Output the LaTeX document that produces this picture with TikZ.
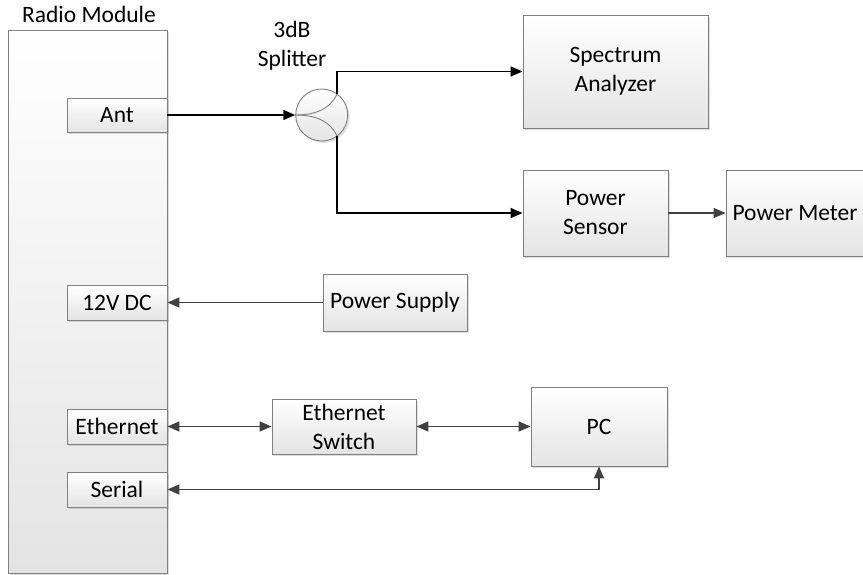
\documentclass[tikz,border=0pt]{standalone}
\usepackage{fontspec}
\setmainfont{Carlito}
\usetikzlibrary{arrows.meta,shadows,calc}
\definecolor{boxborder}{RGB}{128,128,128}
\definecolor{boxbottom}{RGB}{228,228,228}
\definecolor{wire}{RGB}{64,64,64}
\tikzset{
  blockbox/.style={draw=boxborder, line width=0.9pt, rectangle, inner sep=0pt,
    top color=white, bottom color=boxbottom, align=center,
    drop shadow={shadow xshift=2pt, shadow yshift=-2pt, opacity=0.25, fill=gray}},
  wireline/.style={draw=wire, line width=1.5pt},
  blackline/.style={draw=black, line width=1.5pt},
  tip/.style={-{Triangle[length=12pt,width=10pt]}},
  tips/.style={{Triangle[length=12pt,width=10pt]}-{Triangle[length=12pt,width=10pt]}},
  lbl/.style={inner sep=0pt, align=center}
}
\begin{document}
\begin{tikzpicture}[x=1pt,y=-1pt,font=\fontsize{23.5}{29}\selectfont]
\useasboundingbox (0,0) rectangle (863,575);
\begin{scope}
\clip (0,0) rectangle (863,575);
% boxes
\node[blockbox, minimum width=159pt, minimum height=543pt] (radio) at (87.5,301.5) {};
\node[blockbox, minimum width=100pt, minimum height=34pt] (ant) at (117,115) {Ant};
\node[blockbox, minimum width=100pt, minimum height=35pt] (dc) at (117,302.5) {12V DC};
\node[blockbox, minimum width=100pt, minimum height=35pt] (eth) at (117,426.5) {Ethernet};
\node[blockbox, minimum width=100pt, minimum height=35pt] (serial) at (117,489.5) {Serial};
\node[blockbox, minimum width=185pt, minimum height=113pt] (spec) at (615.5,71.5) {Spectrum\\Analyzer};
\node[blockbox, minimum width=145pt, minimum height=86pt] (sensor) at (595.5,213) {Power\\Sensor};
\node[blockbox, minimum width=138pt, minimum height=86pt] (meter) at (795,213) {Power Meter};
\node[blockbox, minimum width=144pt, minimum height=57pt] (psu) at (395,302.5) {Power Supply};
\node[blockbox, minimum width=144pt, minimum height=55pt] (switch) at (344,426.5) {Ethernet\\Switch};
\node[blockbox, minimum width=136pt, minimum height=79pt] (pc) at (599,426.5) {PC};
% splitter
\node[blockbox, circle, minimum size=52pt] (split) at (321.7,115) {};
\draw[boxborder, line width=0.9pt] (split.west) to[out=0,in=-115] (split.54);
\draw[boxborder, line width=0.9pt] (split.west) to[out=0,in=115] (split.-54);
% labels
\node[lbl, anchor=base] (radiolbl) at (89,23) {Radio Module};
\node[lbl] (splitlbl) at (292,46) {3dB\\Splitter};
% connectors
\draw[blackline, tip] (ant.east) -- (split.west);
\draw[blackline, tip] (split.54) |- (spec.west);
\draw[blackline, tip] (split.-54) |- (sensor.west);
\draw[wireline, tip] (sensor.east) -- (meter.west);
\draw[wireline, tip] (psu.west) -- (dc.east);
\draw[wireline, tips] (eth.east) -- (switch.west);
\draw[wireline, tips] (switch.east) -- (pc.west);
\draw[wireline, tips] (serial.east) -| (pc.south);
\end{scope}
\end{tikzpicture}
\end{document}
